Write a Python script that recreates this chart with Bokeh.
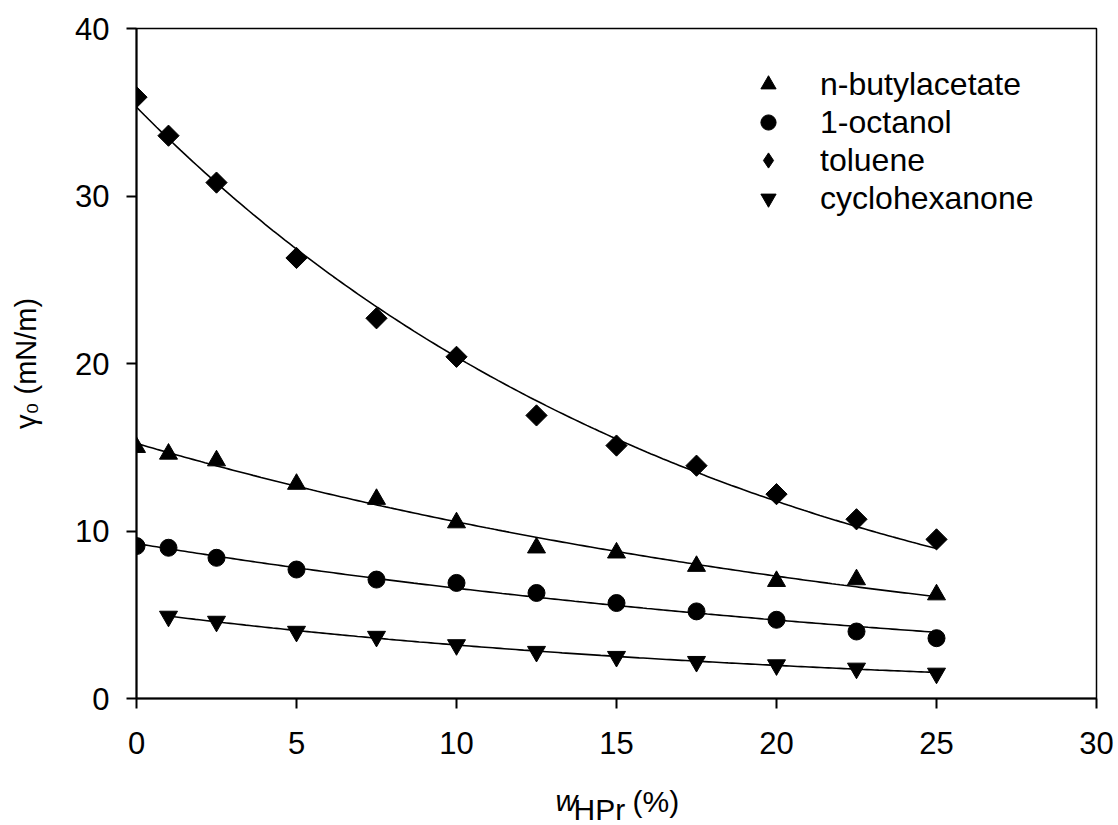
import numpy as np
from bokeh.plotting import figure
from bokeh.models import Range1d, Legend, LegendItem, FixedTicker, Title
from bokeh.embed import file_html
from bokeh.resources import INLINE

# ---- data ----
w_hpr = [0, 1, 2.5, 5, 7.5, 10, 12.5, 15, 17.5, 20, 22.5, 25]
n_butylacetate = [15.0, 14.6, 14.2, 12.8, 11.9, 10.5, 9.0, 8.7, 7.9, 7.0, 7.1, 6.2]
octanol = [9.1, 9.0, 8.4, 7.7, 7.1, 6.9, 6.3, 5.7, 5.2, 4.7, 4.0, 3.6]
toluene = [35.9, 33.6, 30.8, 26.3, 22.7, 20.4, 16.9, 15.1, 13.9, 12.2, 10.7, 9.5]
w_hpr_cyclo = [1, 2.5, 5, 7.5, 10, 12.5, 15, 17.5, 20, 22.5, 25]
cyclohexanone = [4.9, 4.6, 4.0, 3.7, 3.2, 2.8, 2.5, 2.2, 2.0, 1.8, 1.5]

series_names = ["n-butylacetate", "1-octanol", "toluene", "cyclohexanone"]
x_ticks = [0, 5, 10, 15, 20, 25, 30]
y_ticks = [0, 10, 20, 30, 40]

FONT = "Liberation Sans"


def exp_fit(x, y):
    """Exponential decay fit y = a*exp(-b*x) (log-linear, weighted)."""
    x = np.asarray(x, float)
    y = np.asarray(y, float)
    k, c = np.polyfit(x, np.log(y), 1, w=y)
    xs = np.linspace(x.min(), x.max(), 200)
    return xs, np.exp(c) * np.exp(k * xs)


p = figure(frame_width=960, frame_height=670,
           x_range=Range1d(0, 30), y_range=Range1d(0, 40),
           output_backend="svg", toolbar_location=None,
           min_border_left=136, min_border_right=22,
           min_border_top=28, min_border_bottom=127,
           background_fill_color="white", border_fill_color="white")

p.xgrid.visible = False
p.ygrid.visible = False
p.outline_line_color = "black"
p.outline_line_width = 1.5

p.xaxis.ticker = FixedTicker(ticks=x_ticks)
p.yaxis.ticker = FixedTicker(ticks=y_ticks)
for ax in (p.xaxis, p.yaxis):
    ax.axis_line_color = "black"
    ax.axis_line_width = 2
    ax.major_tick_line_color = "black"
    ax.major_tick_line_width = 2
    ax.major_tick_out = 10
    ax.major_tick_in = 0
    ax.minor_tick_out = 0
    ax.minor_tick_in = 0
    ax.major_label_text_font = FONT
    ax.major_label_text_font_size = "31px"
    ax.major_label_text_color = "black"
p.xaxis.major_label_standoff = 23
p.yaxis.major_label_standoff = 17

# y axis label
p.yaxis.axis_label = "γ₀ (mN/m)"
p.yaxis.axis_label_text_font = FONT
p.yaxis.axis_label_text_font_size = "29px"
p.yaxis.axis_label_text_font_style = "normal"
p.yaxis.axis_label_text_color = "black"
p.yaxis.axis_label_standoff = 30

# fitted curves
series = [
    (w_hpr, n_butylacetate),
    (w_hpr, octanol),
    (w_hpr, toluene),
    (w_hpr_cyclo, cyclohexanone),
]
for xs, ys in series:
    fx, fy = exp_fit(xs, ys)
    p.line(fx, fy, line_color="black", line_width=1.6)

mk = dict(fill_color="black", line_color="black")
r_nb = p.scatter(w_hpr, n_butylacetate, marker="triangle", size=18, **mk)
r_oc = p.scatter(w_hpr, octanol, marker="circle", size=17, **mk)
p.scatter(w_hpr, toluene, marker="square", angle=np.pi / 4, size=15, **mk)
r_cy = p.scatter(w_hpr_cyclo, cyclohexanone, marker="inverted_triangle", size=18, **mk)
# legend swatch for toluene (legend markers are drawn unrotated)
r_to_leg = p.scatter(w_hpr, toluene, marker="diamond", size=20, visible=False, **mk)

legend = Legend(items=[
    LegendItem(label=series_names[0], renderers=[r_nb]),
    LegendItem(label=series_names[1], renderers=[r_oc]),
    LegendItem(label=series_names[2], renderers=[r_to_leg]),
    LegendItem(label=series_names[3], renderers=[r_cy]),
], location=(612, 481))
legend.glyph_width = 40
legend.glyph_height = 38
legend.label_height = 38
legend.label_standoff = 32
legend.spacing = 0
legend.padding = 0
legend.margin = 0
legend.border_line_color = None
legend.background_fill_alpha = 0
legend.inactive_fill_alpha = 0
legend.label_text_font = FONT
legend.label_text_font_size = "32px"
legend.label_text_color = "black"
p.add_layout(legend, "center")

# x axis label  w_HPr (%)  built from three zero-height pieces below the axis
tkw = dict(align="left", vertical_align="bottom", text_font=FONT,
           text_font_size="30px", text_color="black")
p.add_layout(Title(text="w", offset=419, standoff=-121,
                   text_font_style="italic", **tkw), "below")
p.add_layout(Title(text="HPr", offset=437, standoff=-139,
                   text_font_style="normal", **tkw), "below")
p.add_layout(Title(text="(%)", offset=496, standoff=-123,
                   text_font_style="normal", **tkw), "below")

open("out.html", "w").write(file_html(p, INLINE))
